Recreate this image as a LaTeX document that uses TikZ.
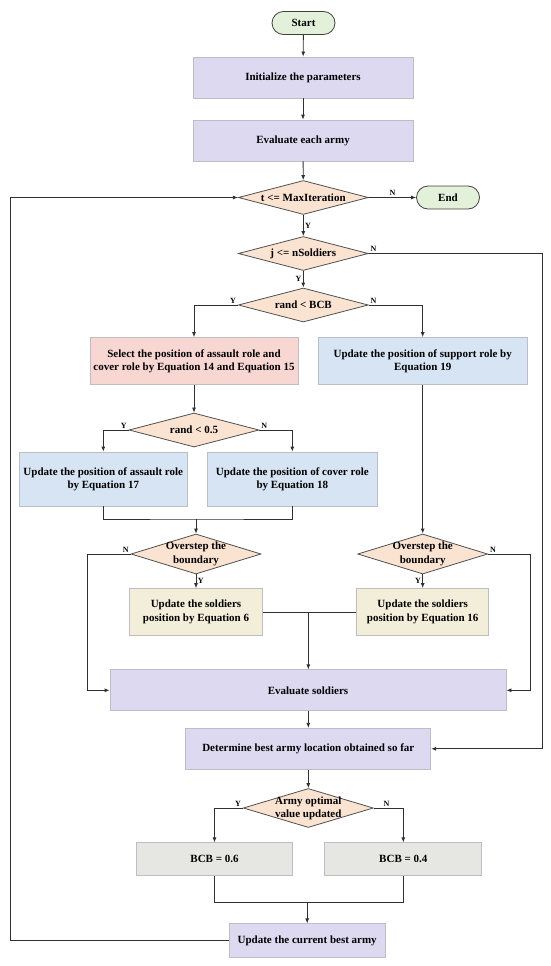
\documentclass[tikz,border=0pt]{standalone}
\usepackage{fontspec}
\setmainfont{Liberation Serif}
\usetikzlibrary{shapes.geometric,positioning,arrows.meta}
\definecolor{termfill}{HTML}{E3F0DA}
\definecolor{termline}{HTML}{404040}
\definecolor{lilac}{HTML}{DCD9F0}
\definecolor{boxline}{HTML}{BDBDC8}
\definecolor{decfill}{HTML}{FBE3D2}
\definecolor{decline}{HTML}{505050}
\definecolor{pinkfill}{HTML}{F8D7D2}
\definecolor{bluefill}{HTML}{D6E4F3}
\definecolor{creamfill}{HTML}{F2EEDA}
\definecolor{greyfill}{HTML}{E6E6E3}
\definecolor{wire}{HTML}{303030}
\tikzset{
txt/.style={
  font=\fontsize{11}{13.3}\selectfont\bfseries,
  text=black,
  align=center,
  inner sep=0pt
  },
yn/.style={
  font=\fontsize{8}{9}\selectfont\bfseries,
  text=black,
  inner sep=1.5pt
  },
box/.style={
  rectangle,
  draw=boxline,
  txt
  },
term/.style={
  rectangle,
  rounded corners=11.5pt,
  draw=termline,
  fill=termfill,
  minimum width=63pt,
  minimum height=23pt,
  txt
  },
decide/.style={
  diamond,
  draw=decline,
  fill=decfill,
  inner sep=0pt,
  minimum width=130pt,
  minimum height=34pt
  }
}
\begin{document}
\begin{tikzpicture}[x=1pt,y=-1pt,>={Latex[length=5pt,width=4pt]},line width=0.8pt,wire]
\useasboundingbox (0,0) rectangle (550,966);

\node[term] (start) at (303.5,23) {Start};
\node[box,fill=lilac,minimum width=220pt,minimum height=41pt]
  (init) at (303,77.5) {Initialize the parameters};
\node[box,fill=lilac,minimum width=220pt,minimum height=41pt]
  (evalarmy) at (303,140.5) {Evaluate each army};
\node[decide,label={[txt]center:t <= MaxIteration}]
  (tcheck) at (303.3,197.5) {};
\node[term] (stop) at (448,197.5) {End};
\node[decide,label={[txt]center:j <= nSoldiers}]
  (jcheck) at (303.3,253.5) {};
\node[decide,label={[txt]center:rand < BCB}]
  (bcbcheck) at (303.3,305) {};
\node[box,fill=pinkfill,minimum width=208pt,minimum height=47pt]
  (select) at (194,361) {Select the position of assault role and\\cover role by Equation 14 and Equation 15};
\node[box,fill=bluefill,minimum width=209pt,minimum height=47pt]
  (support) at (422.7,361) {Update the position of support role by\\Equation 19};
\node[decide,label={[txt]center:rand < 0.5}]
  (halfcheck) at (194,430) {};
\node[box,fill=bluefill,minimum width=168pt,minimum height=54pt]
  (assault) at (103.3,479) {Update the position of assault role\\by Equation 17};
\node[box,fill=bluefill,minimum width=170pt,minimum height=54pt]
  (cover) at (292.3,479) {Update the position of cover role\\by Equation 18};
\node[decide,minimum height=40pt,label={[txt]center:{Overstep the\\boundary}}]
  (overL) at (196,554) {};
\node[decide,minimum height=40pt,label={[txt]center:{Overstep the\\boundary}}]
  (overR) at (422.7,554) {};
\node[box,fill=creamfill,minimum width=133pt,minimum height=47pt]
  (eqsix) at (196,612) {Update the soldiers\\position by Equation 6};
\node[box,fill=creamfill,minimum width=132pt,minimum height=47pt]
  (eqsixteen) at (422.7,612) {Update the soldiers\\position by Equation 16};
\node[box,fill=lilac,minimum width=396pt,minimum height=41pt]
  (evalsold) at (308,690.3) {Evaluate soldiers};
\node[box,fill=lilac,minimum width=245pt,minimum height=41pt]
  (determine) at (308.3,748.8) {Determine best army location obtained so far};
\node[decide,minimum height=39pt,label={[txt]center:{Army optimal\\value updated}}]
  (armycheck) at (308.3,808) {};
\node[box,fill=greyfill,minimum width=156pt,minimum height=33pt]
  (bcbsix) at (214.5,859.3) {BCB = 0.6};
\node[box,fill=greyfill,minimum width=157pt,minimum height=33pt]
  (bcbfour) at (403.3,859.3) {BCB = 0.4};
\node[box,fill=lilac,minimum width=156pt,minimum height=34pt]
  (bestarmy) at (307.2,940.8) {Update the current best army};

\coordinate (leftloop) at (10,0);
\coordinate (rightloop) at (542.7,0);
\coordinate (leftrail) at (87.3,0);
\coordinate (rightrail) at (530.7,0);
\coordinate (mergeA) at (196,519);
\coordinate (mergeB) at (308.3,612);
\coordinate (mergeC) at (307.2,902.7);

\draw[->] (start) -- (init);
\draw[->] (init) -- (evalarmy);
\draw[->] (evalarmy) -- (tcheck);
\draw[->] (tcheck) -- node[yn,above] {N} (stop);
\draw[->] (tcheck) -- node[yn,right] {Y} (jcheck);
\draw[->] (jcheck) -- node[yn,left] {Y} (bcbcheck);
\node[yn,above left] at (bcbcheck.west) {Y};
\node[yn,above right] at (bcbcheck.east) {N};
\draw[->] (bcbcheck.west) -| (select.north);
\draw[->] (bcbcheck.east) -| (support.north);

\node[yn,above right] at (jcheck.east) {N};
\draw[->] (jcheck.east) -- (jcheck.east -| rightloop) |- (determine.east);

\draw[->] (select) -- (halfcheck);
\node[yn,above left] at (halfcheck.west) {Y};
\node[yn,above right] at (halfcheck.east) {N};
\draw[->] (halfcheck.west) -| (assault.north);
\draw[->] (halfcheck.east) -| (cover.north);

\draw (assault.south) |- (mergeA) -| (cover.south);
\draw[->] (mergeA) -- (overL.north);
\draw[->] (support) -- (overR);

\node[yn,above left] at (overL.west) {N};
\draw[->] (overL.west) -- (overL.west -| leftrail) |- (evalsold.west);
\node[yn,above right] at (overR.east) {N};
\draw[->] (overR.east) -- (overR.east -| rightrail) |- (evalsold.east);
\draw[->] (overL) -- node[yn,right] {Y} (eqsix);
\draw[->] (overR) -- node[yn,left] {Y} (eqsixteen);

\draw (eqsix.east) -- (eqsixteen.west);
\draw[->] (mergeB) -- (mergeB |- evalsold.north);

\draw[->] (evalsold.south -| determine) -- (determine);
\draw[->] (determine) -- (armycheck);
\node[yn,above left] at (armycheck.west) {Y};
\node[yn,above right,xshift=8pt] at (armycheck.east) {N};
\draw[->] (armycheck.west) -| (bcbsix.north);
\draw[->] (armycheck.east) -| (bcbfour.north);

\draw (bcbsix.south) |- (mergeC) -| (bcbfour.south);
\draw[->] (mergeC) -- (bestarmy);

\draw[->] (bestarmy.west) -- (bestarmy.west -| leftloop) -- (tcheck.west -| leftloop) -- (tcheck.west);
\end{tikzpicture}
\end{document}
